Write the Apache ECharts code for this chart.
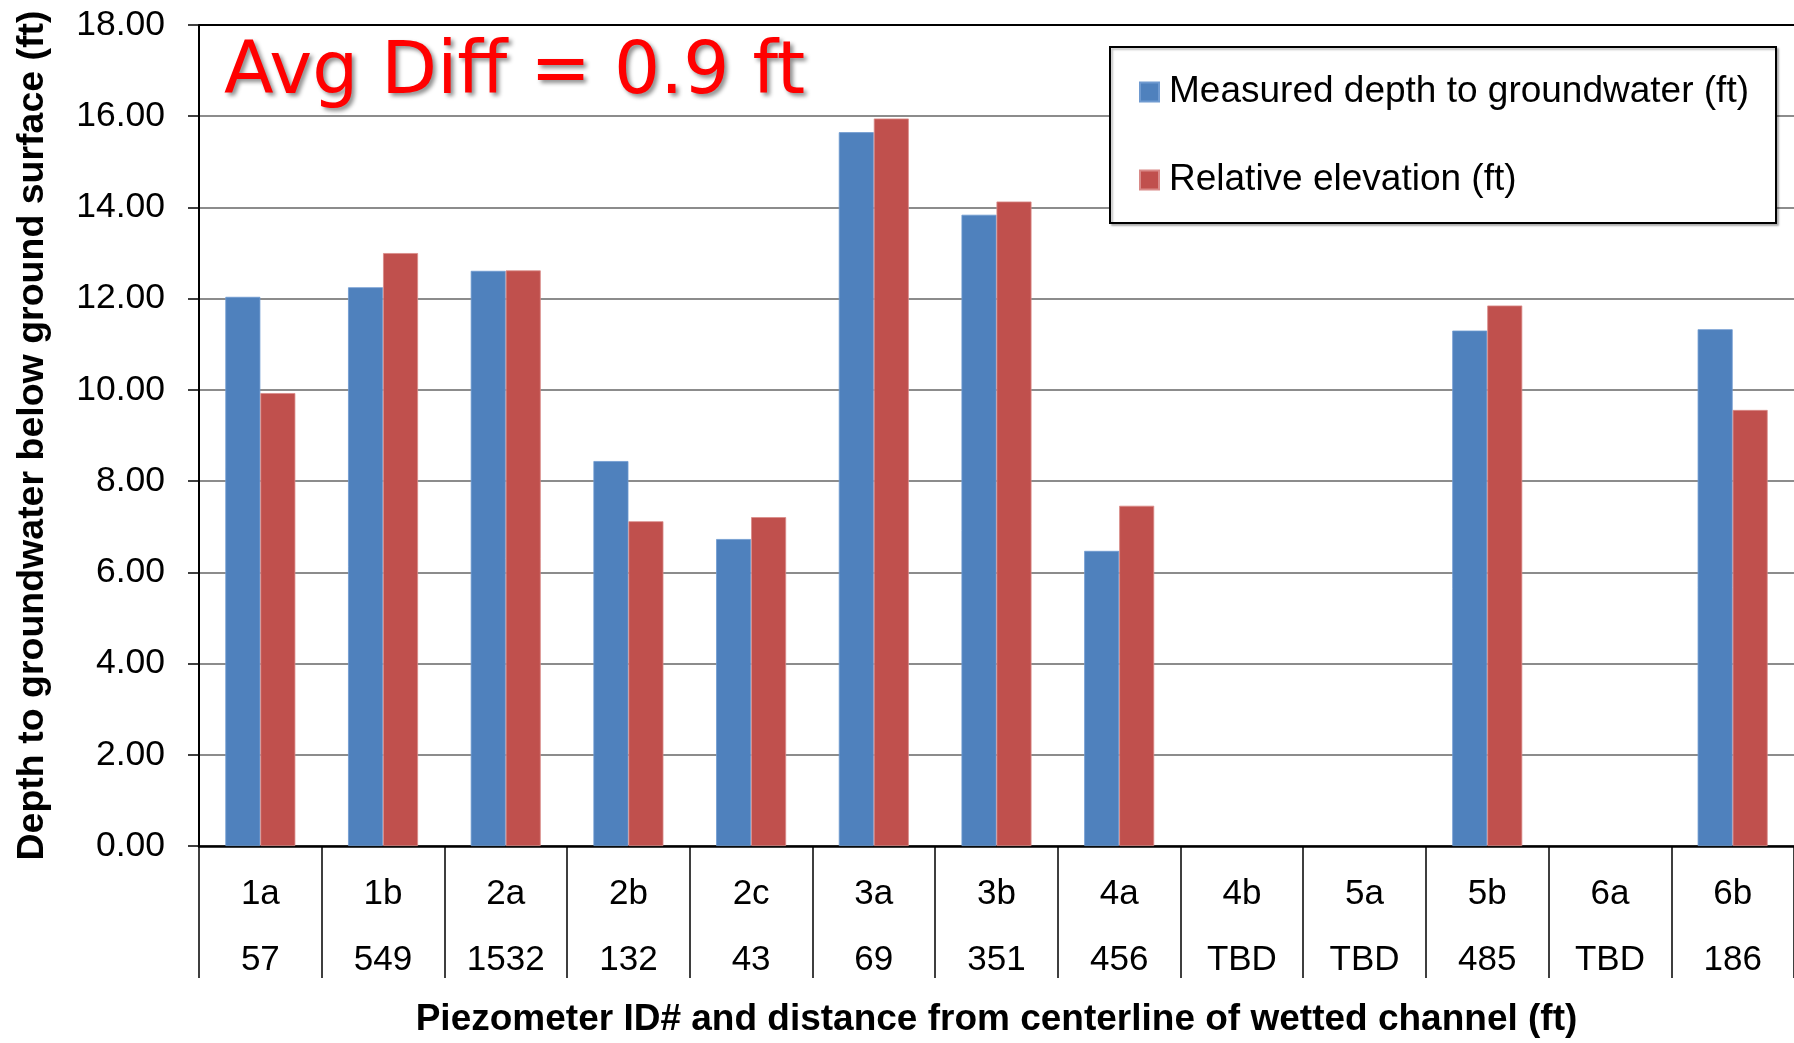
<!DOCTYPE html>
<html>
<head>
<meta charset="utf-8">
<title>Depth to groundwater by piezometer</title>
<script src="https://cdn.jsdelivr.net/npm/echarts@6/dist/echarts.min.js"></script>
<style>
  html, body { margin: 0; padding: 0; background: #fff; }
  #chart { width: 1794px; height: 1043px; }
</style>
</head>
<body>
<div id="chart"></div>
<script>
// Piezometer IDs and their distance from the centerline of the wetted channel (ft)
const piezometerIds = ['1a', '1b', '2a', '2b', '2c', '3a', '3b', '4a', '4b', '5a', '5b', '6a', '6b'];
const distances = ['57', '549', '1532', '132', '43', '69', '351', '456', 'TBD', 'TBD', '485', 'TBD', '186'];

// Depth values in feet (null where no reading yet)
const measuredDepth = [12.04, 12.25, 12.61, 8.44, 6.73, 15.65, 13.84, 6.47, null, null, 11.30, null, 11.33];
const relativeElevation = [9.93, 13.00, 12.62, 7.12, 7.21, 15.95, 14.13, 7.46, null, null, 11.85, null, 9.56];

// Y axis range (ft)
const yMin = 0;
const yMax = 18;
const yStep = 2;

const seriesNames = ['Measured depth to groundwater (ft)', 'Relative elevation (ft)'];

// Average absolute difference between the two series where both exist
const diffs = measuredDepth
  .map((m, i) => (m != null && relativeElevation[i] != null) ? Math.abs(m - relativeElevation[i]) : null)
  .filter(d => d != null);
const avgDiff = diffs.reduce((a, b) => a + b, 0) / diffs.length;

const baseFont = "'Liberation Sans', Arial, Helvetica, sans-serif";

const chart = echarts.init(document.getElementById('chart'));

chart.setOption({
  animation: false,
  backgroundColor: '#ffffff',
  grid: {
    left: 199,
    right: -3,
    top: 25,
    bottom: 192,
    show: false
  },
  graphic: [
    {
      type: 'line',
      z: 5,
      shape: { x1: 199, y1: 25, x2: 1794, y2: 25 },
      style: { stroke: '#000', lineWidth: 2 }
    },
    {
      type: 'rect',
      z: 10,
      shape: { x: 1110, y: 47, width: 666, height: 176 },
      style: { fill: '#ffffff', stroke: '#000', lineWidth: 2,
               shadowColor: 'rgba(0,0,0,0.25)', shadowOffsetX: 2, shadowOffsetY: 2, shadowBlur: 2 }
    },
    {
      type: 'text',
      z: 10,
      left: 224,
      top: 38,
      style: {
        text: 'Avg Diff = ' + avgDiff.toFixed(1) + ' ft',
        fill: '#ff0000',
        font: "72.5px 'DejaVu Sans', sans-serif",
        textShadowColor: 'rgba(0,0,0,0.45)',
        textShadowBlur: 4,
        textShadowOffsetX: 3,
        textShadowOffsetY: 3
      }
    }
  ],
  legend: {
    z: 20,
    orient: 'vertical',
    left: 1139,
    top: 72,
    padding: 0,
    itemWidth: 19,
    itemHeight: 19,
    itemGap: 48,
    icon: 'rect',
    data: seriesNames,
    textStyle: {
      fontFamily: baseFont,
      fontSize: 37,
      lineHeight: 40,
      color: '#000',
      padding: [0, 0, 0, 5]
    }
  },
  xAxis: {
    type: 'category',
    data: piezometerIds,
    name: 'Piezometer ID# and distance from centerline of wetted channel (ft)',
    nameLocation: 'middle',
    nameGap: 155,
    nameTextStyle: {
      fontFamily: baseFont,
      fontSize: 37,
      fontWeight: 'bold',
      color: '#000'
    },
    axisLine: { show: true, lineStyle: { color: '#000', width: 2.5 } },
    axisTick: {
      show: true,
      interval: 0,
      length: 132,
      lineStyle: { color: '#000', width: 1.5 }
    },
    axisLabel: {
      interval: 0,
      margin: 15,
      fontFamily: baseFont,
      fontSize: 35,
      lineHeight: 66,
      color: '#000',
      formatter: (value, index) => value + '\n' + distances[index]
    },
    splitLine: { show: false }
  },
  yAxis: {
    type: 'value',
    min: yMin,
    max: yMax,
    interval: yStep,
    name: 'Depth to groundwater below ground surface (ft)',
    nameLocation: 'middle',
    nameGap: 147,
    nameTextStyle: {
      fontFamily: baseFont,
      fontSize: 37.5,
      fontWeight: 'bold',
      color: '#000'
    },
    axisLine: { show: true, lineStyle: { color: '#000', width: 2 } },
    axisTick: { show: true, inside: false, length: 11, lineStyle: { color: '#000', width: 1.5 } },
    axisLabel: {
      margin: 34,
      fontFamily: baseFont,
      fontSize: 35.5,
      color: '#000',
      formatter: v => v.toFixed(2)
    },
    splitLine: { show: true, lineStyle: { color: '#8c8c8c', width: 2 } }
  },
  series: [
    {
      name: seriesNames[0],
      type: 'bar',
      data: measuredDepth,
      barWidth: 35,
      barGap: '0%',
      itemStyle: { color: '#4f81bd', borderColor: '#6f9ad0', borderWidth: 0.8 }
    },
    {
      name: seriesNames[1],
      type: 'bar',
      data: relativeElevation,
      barWidth: 35,
      barGap: '0%',
      itemStyle: { color: '#c0504d', borderColor: '#d98a88', borderWidth: 0.8 }
    }
  ]
});
</script>
</body>
</html>
